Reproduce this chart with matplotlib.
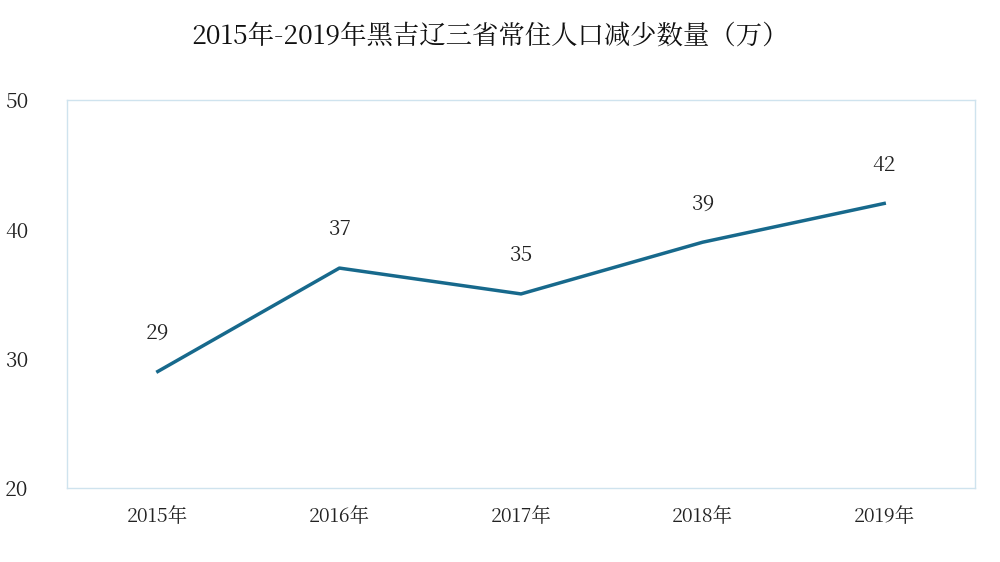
import matplotlib.pyplot as plt
from matplotlib import font_manager

# 找一个可用的中文字体
cjk = [f.name for f in font_manager.fontManager.ttflist if 'CJK' in f.name]
cjk_name = 'Noto Sans CJK SC' if 'Noto Sans CJK SC' in cjk else (cjk[0] if cjk else 'DejaVu Sans')
plt.rcParams['font.family'] = 'sans-serif'
plt.rcParams['font.sans-serif'] = [cjk_name, 'DejaVu Sans']

years = ['2015年', '2016年', '2017年', '2018年', '2019年']
decrease = [29, 37, 35, 39, 42]

fig = plt.figure(figsize=(10, 5.62), dpi=100)
ax = fig.add_axes([0.067, 0.132, 0.908, 0.69])

x = range(len(years))
ax.plot(x, decrease, color='#17698c', linewidth=2.5)
for i, v in zip(x, decrease):
    ax.annotate(str(v), (i, v), xytext=(0, 20), textcoords='offset points',
                ha='center', va='bottom', fontsize=15, color='#222222')

ax.set_xlim(-0.5, 4.5)
ax.set_ylim(20, 50)
ax.set_yticks([20, 30, 40, 50])
ax.set_xticks(list(x))
ax.set_xticklabels(years)
ax.tick_params(axis='both', length=0, labelsize=14, colors='#222222')
ax.tick_params(axis='y', pad=28, labelsize=15)
ax.tick_params(axis='x', pad=14)
for s in ax.spines.values():
    s.set_color('#cfe3ee')
    s.set_linewidth(1)

fig.suptitle('2015年-2019年黑吉辽三省常住人口减少数量（万）', fontsize=19,
             x=0.49, y=0.96, color='#111111')

fig.savefig('out.png', dpi=100)
